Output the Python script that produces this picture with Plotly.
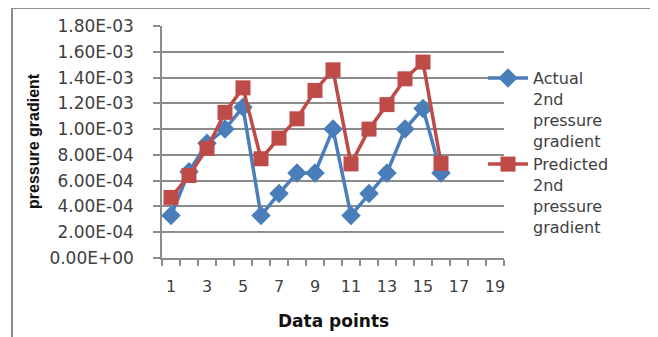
import plotly.graph_objects as go

# ---- data ----
points = list(range(1, 17))
actual = [3.3e-4, 6.7e-4, 8.9e-4, 1.00e-3, 1.17e-3, 3.3e-4, 5.0e-4, 6.6e-4,
          6.6e-4, 1.00e-3, 3.3e-4, 5.0e-4, 6.6e-4, 1.00e-3, 1.16e-3, 6.6e-4]
predicted = [4.7e-4, 6.4e-4, 8.5e-4, 1.13e-3, 1.32e-3, 7.7e-4, 9.3e-4, 1.08e-3,
             1.30e-3, 1.46e-3, 7.3e-4, 1.00e-3, 1.19e-3, 1.39e-3, 1.52e-3, 7.35e-4]
series_names = ["Actual<br>2nd<br>pressure<br>gradient",
                "Predicted<br>2nd<br>pressure<br>gradient"]
y_tickvals = [0, 2e-4, 4e-4, 6e-4, 8e-4, 1.0e-3, 1.2e-3, 1.4e-3, 1.6e-3, 1.8e-3]
y_ticktext = ["0.00E+00", "2.00E-04", "4.00E-04", "6.00E-04", "8.00E-04",
              "1.00E-03", "1.20E-03", "1.40E-03", "1.60E-03", "1.80E-03"]
x_tickvals = [1, 3, 5, 7, 9, 11, 13, 15, 17, 19]
x_ticktext = [str(v) for v in x_tickvals]

BLUE = "#4A7EBB"
RED = "#BE4B48"
GRID = "#8C8C8C"
TXT = "#404040"

# page has an 8px body margin; figure origin sits at page (8, 8)
O = 8
W, H = 658 - O, 337 - O
# plot area in page pixels: x 162..504, y 26..258
PX0, PX1, PY0, PY1 = 162, 504, 26, 258
L, R, T, B = PX0 - O, W - (PX1 - O), PY0 - O, H - (PY1 - O)
pw, ph = PX1 - PX0, PY1 - PY0

def px_x(x):  # page px -> paper
    return (x - PX0) / pw

def px_y(y):
    return (PY1 - y) / ph

fig = go.Figure()
fig.add_trace(go.Scatter(
    x=points, y=actual, name=series_names[0], mode="lines+markers",
    line=dict(color=BLUE, width=3.5),
    marker=dict(symbol="diamond", size=15, color=BLUE),
))
fig.add_trace(go.Scatter(
    x=points, y=predicted, name=series_names[1], mode="lines+markers",
    line=dict(color=RED, width=3.5),
    marker=dict(symbol="square", size=15, color=RED),
))

fig.update_layout(
    width=W, height=H,
    margin=dict(l=L, r=R, t=T, b=B, autoexpand=False),
    paper_bgcolor="white", plot_bgcolor="white",
    font=dict(family="DejaVu Sans", size=16, color=TXT),
    showlegend=True,
    legend=dict(
        x=px_x(483), xanchor="left", y=px_y(61), yanchor="top",
        bgcolor="rgba(0,0,0,0)", valign="top", tracegroupgap=2,
        font=dict(family="DejaVu Sans", size=16, color=TXT),
        itemwidth=40,
    ),
    xaxis=dict(
        range=[0.5, 19.5], tickmode="array", tickvals=x_tickvals, ticktext=x_ticktext,
        showgrid=False, zeroline=False, showline=True, linecolor=GRID, linewidth=1.5,
        ticks="", ticklabelstandoff=13,
        minor=dict(ticks="outside", tick0=0.5, dtick=1, ticklen=6, tickcolor=GRID,
                   tickwidth=1.5, showgrid=False),
        tickfont=dict(family="DejaVu Sans", size=16, color=TXT),
    ),
    yaxis=dict(
        range=[0, 1.8e-3], tickmode="array", tickvals=y_tickvals, ticktext=y_ticktext,
        showgrid=True, gridcolor=GRID, gridwidth=1.5, zeroline=False,
        showline=True, linecolor=GRID, linewidth=1.5,
        ticks="outside", ticklen=7, tickcolor=GRID, tickwidth=1.5,
        ticklabelstandoff=16,
        tickfont=dict(family="DejaVu Sans", size=17, color=TXT),
    ),
    annotations=[
        dict(text="<b>pressure gradient</b>", xref="paper", yref="paper",
             x=px_x(33), y=px_y(141), textangle=-90, showarrow=False,
             font=dict(family="Liberation Sans", size=16, color="#111111"),
             xanchor="center", yanchor="middle"),
        dict(text="<b>Data points</b>", xref="paper", yref="paper",
             x=0.5, y=px_y(321), showarrow=False,
             font=dict(family="DejaVu Sans", size=17, color="#111111"),
             xanchor="center", yanchor="middle"),
    ],
    shapes=[
        dict(type="rect", xref="paper", yref="paper",
             x0=px_x(12), x1=px_x(654), y0=px_y(345), y1=px_y(8),
             line=dict(color="#8C8C8C", width=2), fillcolor="rgba(0,0,0,0)",
             layer="below"),
    ],
)

fig.write_html("out.html")
